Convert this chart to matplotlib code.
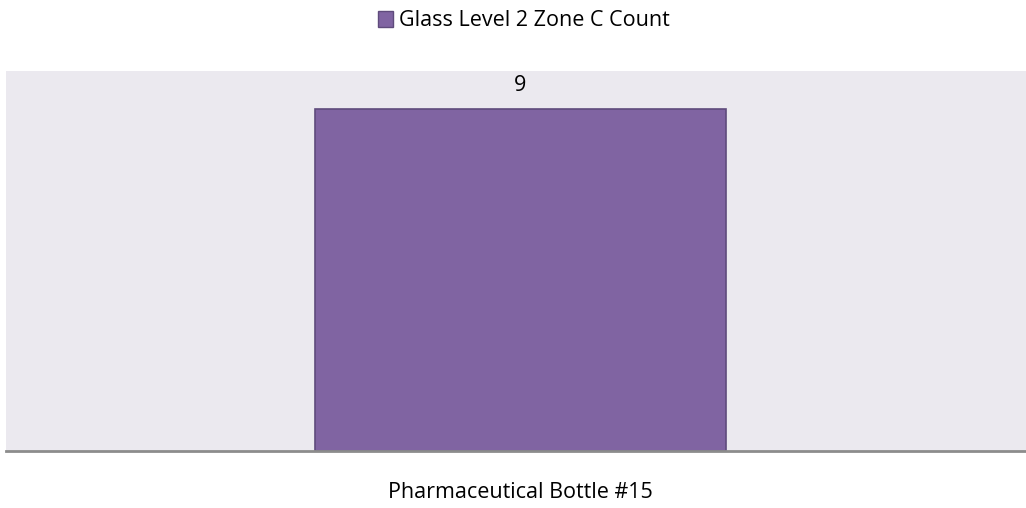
import matplotlib.pyplot as plt
from matplotlib.patches import Patch

plt.rcParams['font.family'] = ['Open Sans', 'DejaVu Sans']

categories = ["Pharmaceutical Bottle #15"]
counts = [9]
series_name = "Glass Level 2 Zone C Count"

fig = plt.figure(figsize=(10.26, 5.08), dpi=100)
# plot area runs slightly past the right edge of the picture
ax = fig.add_axes([6 / 1026, 1 - 451 / 508, 1029 / 1026, 380 / 508])

ax.set_facecolor('#ebe9ef')
bars = ax.bar(range(len(categories)), counts, width=0.4, color='#8064a2',
              edgecolor='#5f4b7c', linewidth=1.2)
for b, v in zip(bars, counts):
    ax.text(b.get_x() + b.get_width() / 2, v + 0.35, str(v), ha='center',
            va='bottom', fontsize=15.5)

ax.set_xlim(-0.5, 0.5)
ax.set_ylim(0, 10)
ax.set_yticks([])
ax.set_xticks(range(len(categories)))
ax.set_xticklabels(categories, fontsize=15.5)
ax.tick_params(axis='x', length=0, pad=22)
for s in ['top', 'right', 'left']:
    ax.spines[s].set_visible(False)
ax.spines['bottom'].set_color('#8c8c8c')
ax.spines['bottom'].set_linewidth(2)

handle = Patch(facecolor='#8064a2', edgecolor='#5f4b7c', label=series_name)
fig.legend(handles=[handle], loc='center', bbox_to_anchor=(524 / 1026, 1 - 21 / 508),
           frameon=False, fontsize=15.5, handlelength=0.7, handleheight=0.7,
           handletextpad=0.3, borderpad=0)

fig.savefig('out.png', dpi=100)
